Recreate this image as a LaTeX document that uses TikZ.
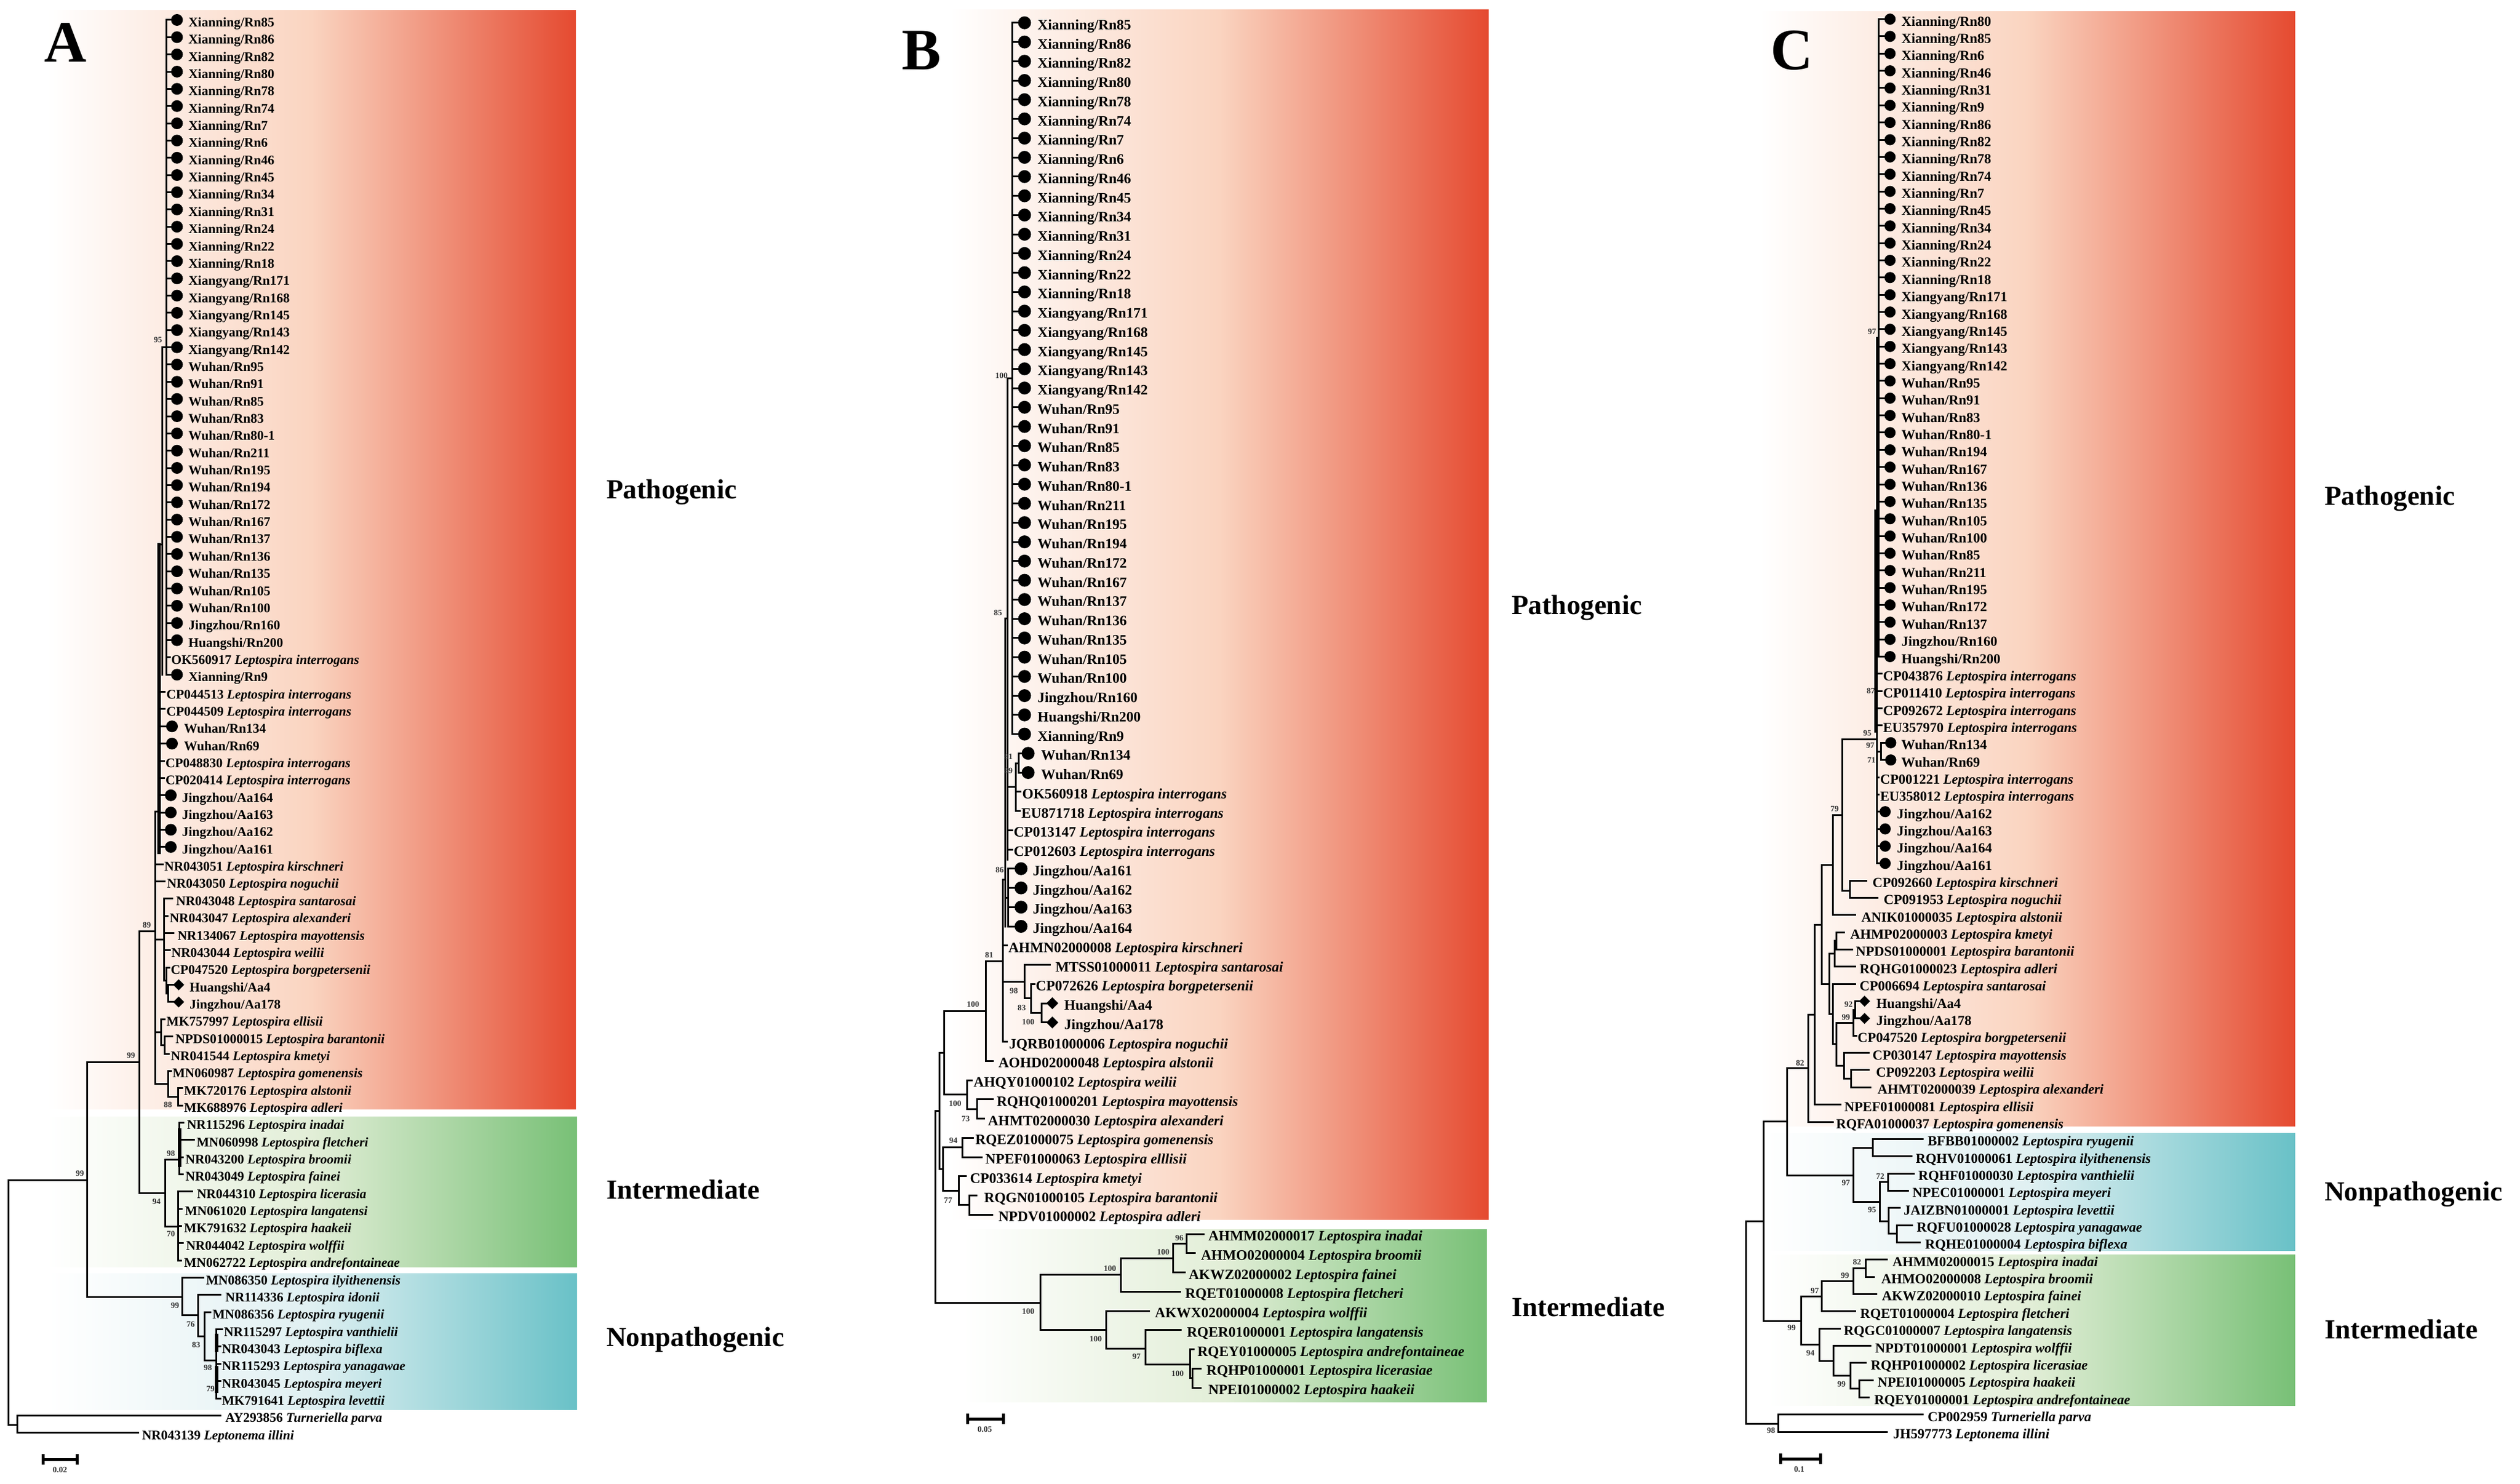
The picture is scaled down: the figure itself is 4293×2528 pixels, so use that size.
\documentclass[tikz,border=0pt]{standalone}
\usepackage{fontspec}
\setmainfont{Liberation Serif}
\usetikzlibrary{shapes.geometric}
\definecolor{redR}{RGB}{229,74,48}
\definecolor{redM}{RGB}{250,212,192}
\definecolor{greenR}{RGB}{120,192,118}
\definecolor{greenM}{RGB}{226,238,215}
\definecolor{blueR}{RGB}{105,193,199}
\definecolor{blueM}{RGB}{224,240,242}
\newcommand\rA[1]{{34+(#1-1)*29.35}}
\newcommand\rB[1]{{38.8+(#1-1)*32.75}}
\newcommand\rC[1]{{32.6+(#1-1)*29.35}}
\newcommand\Lsp[2]{#1 \textit{Leptospira #2}}
\newcommand\hb[3]{\draw[br] (#1,#3) -- (#2,#3);}
\newcommand\vb[3]{\draw[br] (#1,#2) -- (#1,#3);}
\newcommand\BS[4]{\node[bs] (#1) at (#2,#3) {#4};}
\begin{document}
\begin{tikzpicture}[x=0.2pt,y=-0.2pt,
 br/.style={line width=0.6pt, line cap=rect},
 la/.style={anchor=mid west, inner sep=0pt, font=\fontsize{4.5}{5}\selectfont\bfseries},
 lb/.style={anchor=mid west, inner sep=0pt, font=\fontsize{4.9}{5.5}\selectfont\bfseries},
 lc/.style={anchor=mid west, inner sep=0pt, font=\fontsize{4.7}{5.2}\selectfont\bfseries},
 bs/.style={inner sep=0pt, font=\fontsize{2.8}{3}\selectfont\bfseries, text=black!80},
 clade/.style={anchor=west, inner sep=0pt, font=\fontsize{9.4}{11}\selectfont\bfseries},
 panel/.style={inner sep=0pt, font=\fontsize{20}{22}\selectfont\bfseries},
 dm/.style={diamond, fill=black, inner sep=0pt, minimum width=3.9pt, minimum height=3.9pt},
 sbar/.style={line width=1pt},
 redbox/.style={left color=white, right color=redR, middle color=redM},
 greenbox/.style={left color=white, right color=greenR, middle color=greenM},
 bluebox/.style={left color=white, right color=blueR, middle color=blueM}]
\useasboundingbox (0,0) rectangle (4293,2528);
\fill[white] (0,0) rectangle (4293,2528);

%================ PANEL A =================
\shade[redbox] (80,18) rectangle (981,1889);
\shade[greenbox] (80,1902) rectangle (983,2158);
\shade[bluebox] (80,2169) rectangle (983,2401);

\vb{283.5}{\rA{1}}{\rA{39}}
\foreach \p/\n [count=\i] in {Xianning/Rn85,Xianning/Rn86,Xianning/Rn82,Xianning/Rn80,Xianning/Rn78,Xianning/Rn74,Xianning/Rn7,Xianning/Rn6,Xianning/Rn46,Xianning/Rn45,Xianning/Rn34,Xianning/Rn31,Xianning/Rn24,Xianning/Rn22,Xianning/Rn18,Xiangyang/Rn171,Xiangyang/Rn168,Xiangyang/Rn145,Xiangyang/Rn143,Xiangyang/Rn142,Wuhan/Rn95,Wuhan/Rn91,Wuhan/Rn85,Wuhan/Rn83,Wuhan/Rn80-1,Wuhan/Rn211,Wuhan/Rn195,Wuhan/Rn194,Wuhan/Rn172,Wuhan/Rn167,Wuhan/Rn137,Wuhan/Rn136,Wuhan/Rn135,Wuhan/Rn105,Wuhan/Rn100,Jingzhou/Rn160,Huangshi/Rn200}{
  \hb{283.5}{292}{\rA{\i}}
  \fill (301.5,\rA{\i}) circle[radius=2pt];
  \node[la] (a\i) at (320,\rA{\i}) {\p/\n};
}
\hb{283.5}{289}{\rA{38}} \node[la] (a38) at (290.8,\rA{38}) {\Lsp{OK560917}{interrogans}};
\hb{283.5}{292}{\rA{39}} \fill (301.5,\rA{39}) circle[radius=2pt]; \node[la] (a39) at (320,\rA{39}) {Xianning/Rn9};
\hb{276}{283.5}{591.6}
\vb{276}{591.6}{1150}
\draw[br,line width=1.1pt] (271,928) -- (271,1452);
\hb{271}{276}{928}
\hb{271}{280}{\rA{40}} \node[la] (a40) at (282.6,\rA{40}) {\Lsp{CP044513}{interrogans}};
\hb{271}{280}{\rA{41}} \node[la] (a41) at (282.6,\rA{41}) {\Lsp{CP044509}{interrogans}};
\hb{271}{284}{\rA{42}} \fill (293,\rA{42}) circle[radius=2pt]; \node[la] (a42) at (312.6,\rA{42}) {Wuhan/Rn134};
\hb{271}{284}{\rA{43}} \fill (293,\rA{43}) circle[radius=2pt]; \node[la] (a43) at (312.6,\rA{43}) {Wuhan/Rn69};
\hb{271}{279}{\rA{44}} \node[la] (a44) at (281,\rA{44}) {\Lsp{CP048830}{interrogans}};
\hb{271}{279}{\rA{45}} \node[la] (a45) at (281,\rA{45}) {\Lsp{CP020414}{interrogans}};
\foreach \n [count=\k from 46] in {Aa164,Aa163,Aa162,Aa161}{
  \hb{271}{282}{\rA{\k}} \fill (291,\rA{\k}) circle[radius=2pt];
  \node[la] (a\k) at (309,\rA{\k}) {Jingzhou/\n};
}
\hb{264}{271}{1382}
\vb{264}{1382}{1846.4}
\hb{264}{277}{\rA{50}} \node[la] (a50) at (279,\rA{50}) {\Lsp{NR043051}{kirschneri}};
\hb{264}{280}{\rA{51}} \node[la] (a51) at (283.5,\rA{51}) {\Lsp{NR043050}{noguchii}};
\hb{264}{279}{1600} \vb{279}{\rA{52}}{1670}
\hb{279}{293}{\rA{52}} \node[la] (a52) at (299,\rA{52}) {\Lsp{NR043048}{santarosai}};
\hb{279}{285}{\rA{53}} \node[la] (a53) at (288,\rA{53}) {\Lsp{NR043047}{alexanderi}};
\hb{279}{295}{\rA{54}} \node[la] (a54) at (301.5,\rA{54}) {\Lsp{NR134067}{mayottensis}};
\hb{279}{289}{\rA{55}} \node[la] (a55) at (291,\rA{55}) {\Lsp{NR043044}{weilii}};
\hb{279}{283}{1670} \vb{283}{\rA{56}}{1692.3}
\hb{283}{288}{\rA{56}} \node[la] (a56) at (290,\rA{56}) {\Lsp{CP047520}{borgpetersenii}};
\hb{283}{286}{1692.3} \vb{286}{\rA{57}}{\rA{58}}
\hb{286}{295}{\rA{57}} \node[dm] (dA57) at (304.4,\rA{57}) {}; \node[la] (a57) at (322,\rA{57}) {Huangshi/Aa4};
\hb{286}{295}{\rA{58}} \node[dm] (dA58) at (304.4,\rA{58}) {}; \node[la] (a58) at (322,\rA{58}) {Jingzhou/Aa178};
\hb{264}{274}{1758.5} \vb{274}{\rA{59}}{1780.3}
\hb{274}{280}{\rA{59}} \node[la] (a59) at (282.6,\rA{59}) {\Lsp{MK757997}{ellisii}};
\hb{274}{280}{1780.3} \vb{280}{\rA{60}}{\rA{61}}
\hb{280}{293}{\rA{60}} \node[la] (a60) at (298,\rA{60}) {\Lsp{NPDS01000015}{barantonii}};
\hb{280}{287}{\rA{61}} \node[la] (a61) at (290,\rA{61}) {\Lsp{NR041544}{kmetyi}};
\hb{264}{286}{1846.4} \vb{286}{\rA{62}}{1868.4}
\hb{286}{291}{\rA{62}} \node[la] (a62) at (293,\rA{62}) {\Lsp{MN060987}{gomenensis}};
\hb{286}{303}{1868.4} \vb{303}{\rA{63}}{\rA{64}}
\hb{303}{310}{\rA{63}} \node[la] (a63) at (312.6,\rA{63}) {\Lsp{MK720176}{alstonii}};
\hb{303}{310}{\rA{64}} \node[la] (a64) at (312.6,\rA{64}) {\Lsp{MK688976}{adleri}};
\hb{237.5}{264}{1586} \vb{237.5}{1586}{2032}
\hb{148}{237.5}{1809} \vb{148}{1809}{2209}
\hb{14.5}{148}{2010} \vb{14.5}{2010}{2427}
\hb{14.5}{29}{2427} \vb{29}{\rA{82}}{\rA{83}}
\hb{29}{375.6}{\rA{82}} \node[la] (a82) at (383,\rA{82}) {AY293856 \textit{Turneriella parva}};
\hb{29}{235}{\rA{83}} \node[la] (a83) at (241,\rA{83}) {NR043139 \textit{Leptonema illini}};
% intermediate A
\hb{237.5}{281}{2032} \vb{281}{1975}{2089}
\hb{281}{305}{1975} \vb{305}{\rA{65}}{\rA{68}}
\draw[br,line width=1.1pt] (306,1925) -- (306,1985);
\hb{305}{312}{\rA{65}} \node[la] (a65) at (317.5,\rA{65}) {\Lsp{NR115296}{inadai}};
\hb{305}{330}{\rA{66}} \node[la] (a66) at (334,\rA{66}) {\Lsp{MN060998}{fletcheri}};
\hb{305}{311}{\rA{67}} \node[la] (a67) at (315,\rA{67}) {\Lsp{NR043200}{broomii}};
\hb{305}{311}{\rA{68}} \node[la] (a68) at (315,\rA{68}) {\Lsp{NR043049}{fainei}};
\hb{281}{303}{2089} \vb{303}{\rA{69}}{\rA{73}}
\hb{303}{327}{\rA{69}} \node[la] (a69) at (334.5,\rA{69}) {\Lsp{NR044310}{licerasia}};
\hb{303}{309}{\rA{70}} \node[la] (a70) at (314,\rA{70}) {\Lsp{MN061020}{langatensi}};
\hb{303}{308}{\rA{71}} \node[la] (a71) at (312.6,\rA{71}) {\Lsp{MK791632}{haakeii}};
\hb{303}{311}{\rA{72}} \node[la] (a72) at (316,\rA{72}) {\Lsp{NR044042}{wolffii}};
\hb{303}{308}{\rA{73}} \node[la] (a73) at (312.6,\rA{73}) {\Lsp{MN062722}{andrefontaineae}};
% nonpathogenic A
\hb{148}{310}{2209} \vb{310}{\rA{74}}{2240.7}
\hb{310}{346.6}{\rA{74}} \node[la] (a74) at (350,\rA{74}) {\Lsp{MN086350}{ilyithenensis}};
\hb{310}{337}{2240.7} \vb{337}{\rA{75}}{2276.5}
\hb{337}{375.6}{\rA{75}} \node[la] (a75) at (383,\rA{75}) {\Lsp{NR114336}{idonii}};
\hb{337}{348}{2276.5} \vb{348}{\rA{76}}{2317}
\hb{348}{358.7}{\rA{76}} \node[la] (a76) at (361,\rA{76}) {\Lsp{MN086356}{ryugenii}};
\hb{348}{368}{2317} \vb{368}{\rA{77}}{\rA{81}}
\draw[br,line width=1.1pt] (369,2275) -- (369,2300);
\draw[br,line width=1.1pt] (369,2330) -- (369,2370);
\hb{368}{378}{\rA{77}} \node[la] (a77) at (380.5,\rA{77}) {\Lsp{NR115297}{vanthielii}};
\hb{368}{375}{\rA{78}} \node[la] (a78) at (377,\rA{78}) {\Lsp{NR043043}{biflexa}};
\hb{368}{375}{\rA{79}} \node[la] (a79) at (377,\rA{79}) {\Lsp{NR115293}{yanagawae}};
\hb{368}{375}{\rA{80}} \node[la] (a80) at (377,\rA{80}) {\Lsp{NR043045}{meyeri}};
\hb{368}{375}{\rA{81}} \node[la] (a81) at (377,\rA{81}) {\Lsp{MK791641}{levettii}};
% bootstrap A
\BS{bA1}{269}{579}{95}
\BS{bA2}{250}{1576}{89}
\BS{bA3}{223}{1798}{99}
\BS{bA4}{286}{1882}{88}
\BS{bA5}{136}{1999}{99}
\BS{bA6}{266.6}{2047}{94}
\BS{bA7}{291}{1965}{98}
\BS{bA8}{291}{2102}{70}
\BS{bA9}{298}{2224}{99}
\BS{bA10}{324.8}{2256}{76}
\BS{bA11}{334}{2291}{83}
\BS{bA12}{354}{2329.5}{98}
\BS{bA13}{358.7}{2366}{79}
% scale A
\draw[sbar] (73.7,2486) -- (131,2486);
\draw[sbar] (73.7,2477) -- (73.7,2495);
\draw[sbar] (131,2477) -- (131,2495);
\node[bs] (sA) at (102,2504) {0.02};
% labels A
\node[panel] (PA) at (111.5,72.4) {A};
\node[clade] (cA1) at (1032,838) {Pathogenic};
\node[clade] (cA2) at (1032,2026) {Intermediate};
\node[clade] (cA3) at (1032,2282) {Nonpathogenic};

%================ PANEL B =================
\shade[redbox] (1618,16.3) rectangle (2536,2077);
\shade[greenbox] (1639,2094) rectangle (2533,2388.5);

\vb{1724}{\rB{1}}{\rB{38}}
\foreach \p/\n [count=\i] in {Xianning/Rn85,Xianning/Rn86,Xianning/Rn82,Xianning/Rn80,Xianning/Rn78,Xianning/Rn74,Xianning/Rn7,Xianning/Rn6,Xianning/Rn46,Xianning/Rn45,Xianning/Rn34,Xianning/Rn31,Xianning/Rn24,Xianning/Rn22,Xianning/Rn18,Xiangyang/Rn171,Xiangyang/Rn168,Xiangyang/Rn145,Xiangyang/Rn143,Xiangyang/Rn142,Wuhan/Rn95,Wuhan/Rn91,Wuhan/Rn85,Wuhan/Rn83,Wuhan/Rn80-1,Wuhan/Rn211,Wuhan/Rn195,Wuhan/Rn194,Wuhan/Rn172,Wuhan/Rn167,Wuhan/Rn137,Wuhan/Rn136,Wuhan/Rn135,Wuhan/Rn105,Wuhan/Rn100,Jingzhou/Rn160,Huangshi/Rn200,Xianning/Rn9}{
  \hb{1724}{1734}{\rB{\i}}
  \fill (1745.4,\rB{\i}) circle[radius=2.2pt];
  \node[lb] (b\i) at (1766.6,\rB{\i}) {\p/\n};
}
\hb{1716}{1724}{644.7} \vb{1716}{644.7}{1464}
\hb{1712}{1716}{1054} \vb{1712}{1054}{1578}
\hb{1716}{1730}{1340} \vb{1730}{1300}{\rB{42}}
\hb{1730}{1735}{1300} \vb{1735}{\rB{39}}{\rB{40}}
\hb{1735}{1742}{\rB{39}} \fill (1751.5,\rB{39}) circle[radius=2.2pt]; \node[lb] (b39) at (1772.7,\rB{39}) {Wuhan/Rn134};
\hb{1735}{1742}{\rB{40}} \fill (1751.5,\rB{40}) circle[radius=2.2pt]; \node[lb] (b40) at (1772.7,\rB{40}) {Wuhan/Rn69};
\hb{1730}{1738}{\rB{41}} \node[lb] (b41) at (1740.6,\rB{41}) {\Lsp{OK560918}{interrogans}};
\hb{1730}{1737}{\rB{42}} \node[lb] (b42) at (1739,\rB{42}) {\Lsp{EU871718}{interrogans}};
\hb{1716}{1724}{\rB{43}} \node[lb] (b43) at (1726,\rB{43}) {\Lsp{CP013147}{interrogans}};
\hb{1716}{1724}{\rB{44}} \node[lb] (b44) at (1726,\rB{44}) {\Lsp{CP012603}{interrogans}};
\hb{1712}{1717}{1529} \vb{1717}{\rB{45}}{\rB{48}}
\foreach \n [count=\k from 45] in {Aa161,Aa162,Aa163,Aa164}{
  \hb{1717}{1729}{\rB{\k}} \fill (1739.4,\rB{\k}) circle[radius=2.2pt];
  \node[lb] (b\k) at (1758.7,\rB{\k}) {Jingzhou/\n};
}
\hb{1708}{1712}{1498} \vb{1708}{1498}{\rB{54}}
\hb{1708}{1715}{\rB{49}} \node[lb] (b49) at (1717,\rB{49}) {\Lsp{AHMN02000008}{kirschneri}};
\hb{1708}{1745}{1672} \vb{1745}{\rB{50}}{1700.6}
\hb{1745}{1788}{\rB{50}} \node[lb] (b50) at (1797,\rB{50}) {\Lsp{MTSS01000011}{santarosai}};
\hb{1745}{1756}{1700.6} \vb{1756}{\rB{51}}{1725.4}
\hb{1756}{1762}{\rB{51}} \node[lb] (b51) at (1763.6,\rB{51}) {\Lsp{CP072626}{borgpetersenii}};
\hb{1756}{1774.5}{1725.4} \vb{1774.5}{\rB{52}}{\rB{53}}
\hb{1774.5}{1784}{\rB{52}} \node[dm,minimum width=4.2pt,minimum height=4.2pt] (dB52) at (1792.7,\rB{52}) {}; \node[lb] (b52) at (1812,\rB{52}) {Huangshi/Aa4};
\hb{1774.5}{1784}{\rB{53}} \node[dm,minimum width=4.2pt,minimum height=4.2pt] (dB53) at (1792.7,\rB{53}) {}; \node[lb] (b53) at (1812,\rB{53}) {Jingzhou/Aa178};
\hb{1708}{1715}{\rB{54}} \node[lb] (b54) at (1718,\rB{54}) {\Lsp{JQRB01000006}{noguchii}};
\hb{1679}{1708}{1637} \vb{1679}{1637}{\rB{55}}
\hb{1679}{1691}{\rB{55}} \node[lb] (b55) at (1700,\rB{55}) {\Lsp{AOHD02000048}{alstonii}};
\hb{1608}{1679}{1722}
\vb{1647}{\rB{56}}{1889.2}
\hb{1647}{1655}{\rB{56}} \node[lb] (b56) at (1657.6,\rB{56}) {\Lsp{AHQY01000102}{weilii}};
\hb{1647}{1664}{1889.2} \vb{1664}{\rB{57}}{\rB{58}}
\hb{1664}{1691}{\rB{57}} \node[lb] (b57) at (1697,\rB{57}) {\Lsp{RQHQ01000201}{mayottensis}};
\hb{1664}{1676}{\rB{58}} \node[lb] (b58) at (1682,\rB{58}) {\Lsp{AHMT02000030}{alexanderi}};
\hb{1608}{1647}{1864.6}
\vb{1608}{1722}{1864.6}
\vb{1639}{\rB{59}}{\rB{60}}
\hb{1639}{1657.6}{\rB{59}} \node[lb] (b59) at (1660.6,\rB{59}) {\Lsp{RQEZ01000075}{gomenensis}};
\hb{1639}{1672.7}{\rB{60}} \node[lb] (b60) at (1677.6,\rB{60}) {\Lsp{NPEF01000063}{elllisii}};
\hb{1606}{1639}{1954.7}
\vb{1633}{\rB{61}}{2052.9}
\hb{1633}{1645.4}{\rB{61}} \node[lb] (b61) at (1651.5,\rB{61}) {\Lsp{CP033614}{kmetyi}};
\hb{1633}{1651.5}{2052.9} \vb{1651.5}{\rB{62}}{\rB{63}}
\hb{1651.5}{1663.6}{\rB{62}} \node[lb] (b62) at (1675.7,\rB{62}) {\Lsp{RQGN01000105}{barantonii}};
\hb{1651.5}{1690}{\rB{63}} \node[lb] (b63) at (1700,\rB{63}) {\Lsp{NPDV01000002}{adleri}};
\hb{1606}{1633}{2028.4} \vb{1606}{1954.7}{2028.4}
\hb{1600}{1606}{1991.5} \vb{1600}{1793.3}{1991.5} \hb{1600}{1608}{1793.3}
\hb{1593}{1600}{1892.4} \vb{1593}{1892.4}{2219.6} \hb{1593}{1772.7}{2219.6}
% intermediate B
\vb{1772.7}{2171.7}{2265}
\hb{1772.7}{1909}{2171.7} \vb{1909}{2143}{\rB{67}}
\hb{1909}{1998.7}{2143} \vb{1998.7}{2118.4}{\rB{66}}
\hb{1998.7}{2021.8}{2118.4} \vb{2021.8}{\rB{64}}{\rB{65}}
\hb{2021.8}{2050.2}{\rB{64}} \node[lb] (b64) at (2057.5,\rB{64}) {\Lsp{AHMM02000017}{inadai}};
\hb{2021.8}{2035}{\rB{65}} \node[lb] (b65) at (2045,\rB{65}) {\Lsp{AHMO02000004}{broomii}};
\hb{1998.7}{2018}{\rB{66}} \node[lb] (b66) at (2024,\rB{66}) {\Lsp{AKWZ02000002}{fainei}};
\hb{1909}{2010.8}{\rB{67}} \node[lb] (b67) at (2018,\rB{67}) {\Lsp{RQET01000008}{fletcheri}};
\hb{1772.7}{1884.8}{2265} \vb{1884.8}{\rB{68}}{2297}
\hb{1884.8}{1957.5}{\rB{68}} \node[lb] (b68) at (1966.6,\rB{68}) {\Lsp{AKWX02000004}{wolffii}};
\hb{1884.8}{1951.5}{2297} \vb{1951.5}{\rB{69}}{2324.6}
\hb{1951.5}{2011}{\rB{69}} \node[lb] (b69) at (2021,\rB{69}) {\Lsp{RQER01000001}{langatensis}};
\hb{1951.5}{2027.4}{2324.6} \vb{2027.4}{\rB{70}}{2347.7}
\hb{2027.4}{2033}{\rB{70}} \node[lb] (b70) at (2039,\rB{70}) {\Lsp{RQEY01000005}{andrefontaineae}};
\hb{2027.4}{2031.4}{2347.7} \vb{2031.4}{\rB{71}}{\rB{72}}
\hb{2031.4}{2045}{\rB{71}} \node[lb] (b71) at (2054.4,\rB{71}) {\Lsp{RQHP01000001}{licerasiae}};
\hb{2031.4}{2045}{\rB{72}} \node[lb] (b72) at (2057.5,\rB{72}) {\Lsp{NPEI01000002}{haakeii}};
% bootstrap B
\BS{bB1}{1706}{640}{100}
\BS{bB2}{1700}{1044}{85}
\BS{bB3}{1718}{1289}{81}
\BS{bB4}{1718}{1313}{89}
\BS{bB5}{1703}{1482}{86}
\BS{bB6}{1685}{1627}{81}
\BS{bB7}{1657.6}{1711}{100}
\BS{bB8}{1727}{1688}{98}
\BS{bB9}{1740.6}{1717}{83}
\BS{bB10}{1751.5}{1741.4}{100}
\BS{bB11}{1627}{1880}{100}
\BS{bB12}{1645}{1906}{73}
\BS{bB13}{1624}{1943}{94}
\BS{bB14}{1615}{2044.6}{77}
\BS{bB15}{1751.5}{2234}{100}
\BS{bB16}{1890.8}{2160.6}{100}
\BS{bB17}{1981.7}{2133}{100}
\BS{bB18}{2009}{2109}{96}
\BS{bB19}{1866.6}{2280.6}{100}
\BS{bB20}{1936}{2311}{97}
\BS{bB21}{2006}{2339.6}{100}
% scale B
\draw[sbar] (1648.5,2417) -- (1709,2417);
\draw[sbar] (1648.5,2408) -- (1648.5,2426);
\draw[sbar] (1709,2408) -- (1709,2426);
\node[bs] (sB) at (1677.6,2435) {0.05};
\node[panel] (PB) at (1570,86) {B};
\node[clade] (cB1) at (2574,1035) {Pathogenic};
\node[clade] (cB2) at (2574,2226) {Intermediate};

%================ PANEL C =================
\shade[redbox] (2998,19.6) rectangle (3910,1918.5);
\shade[bluebox] (3001,1930.7) rectangle (3910,2130);
\shade[greenbox] (3010,2137) rectangle (3910,2394.5);

\vb{3200.7}{\rC{1}}{\rC{38}}
\foreach \p/\n [count=\i] in {Xianning/Rn80,Xianning/Rn85,Xianning/Rn6,Xianning/Rn46,Xianning/Rn31,Xianning/Rn9,Xianning/Rn86,Xianning/Rn82,Xianning/Rn78,Xianning/Rn74,Xianning/Rn7,Xianning/Rn45,Xianning/Rn34,Xianning/Rn24,Xianning/Rn22,Xianning/Rn18,Xiangyang/Rn171,Xiangyang/Rn168,Xiangyang/Rn145,Xiangyang/Rn143,Xiangyang/Rn142,Wuhan/Rn95,Wuhan/Rn91,Wuhan/Rn83,Wuhan/Rn80-1,Wuhan/Rn194,Wuhan/Rn167,Wuhan/Rn136,Wuhan/Rn135,Wuhan/Rn105,Wuhan/Rn100,Wuhan/Rn85,Wuhan/Rn211,Wuhan/Rn195,Wuhan/Rn172,Wuhan/Rn137,Jingzhou/Rn160,Huangshi/Rn200}{
  \hb{3200.7}{3211}{\rC{\i}}
  \fill (3219.8,\rC{\i}) circle[radius=1.9pt];
  \node[lc] (c\i) at (3238.3,\rC{\i}) {\p/\n};
}
\hb{3197}{3200.7}{575.6}
\vb{3197}{575.6}{\rC{50}}
\draw[br,line width=1.1pt] (3196,871) -- (3196,1245);
\foreach \n [count=\k from 39] in {CP043876,CP011410,CP092672,EU357970}{
  \hb{3197}{3205}{\rC{\k}} \node[lc] (c\k) at (3207,\rC{\k}) {\Lsp{\n}{interrogans}};
}
\hb{3138}{3197}{1260}
\hb{3197}{3204}{1280} \vb{3204}{\rC{43}}{\rC{44}}
\hb{3204}{3212}{\rC{43}} \fill (3221,\rC{43}) circle[radius=1.9pt]; \node[lc] (c43) at (3238,\rC{43}) {Wuhan/Rn134};
\hb{3204}{3212}{\rC{44}} \fill (3221,\rC{44}) circle[radius=1.9pt]; \node[lc] (c44) at (3238,\rC{44}) {Wuhan/Rn69};
\hb{3197}{3200}{\rC{45}} \node[lc] (c45) at (3202,\rC{45}) {\Lsp{CP001221}{interrogans}};
\hb{3197}{3200}{\rC{46}} \node[lc] (c46) at (3202,\rC{46}) {\Lsp{EU358012}{interrogans}};
\foreach \n [count=\k from 47] in {Aa162,Aa163,Aa164,Aa161}{
  \hb{3197}{3203}{\rC{\k}} \fill (3211.5,\rC{\k}) circle[radius=1.9pt];
  \node[lc] (c\k) at (3230.6,\rC{\k}) {Jingzhou/\n};
}
\vb{3138}{1260}{1517}
\hb{3138}{3151}{1517} \vb{3151}{\rC{51}}{\rC{52}}
\hb{3151}{3179.6}{\rC{51}} \node[lc] (c51) at (3189,\rC{51}) {\Lsp{CP092660}{kirschneri}};
\hb{3151}{3198.7}{\rC{52}} \node[lc] (c52) at (3208,\rC{52}) {\Lsp{CP091953}{noguchii}};
\hb{3122}{3138}{1388.5} \vb{3122}{1388.5}{\rC{53}}
\hb{3122}{3160.5}{\rC{53}} \node[lc] (c53) at (3170,\rC{53}) {\Lsp{ANIK01000035}{alstonii}};
\hb{3103}{3122}{1473.7}
\vb{3128.6}{\rC{54}}{\rC{55}}
\hb{3128.6}{3141}{\rC{54}} \node[lc] (c54) at (3151,\rC{54}) {\Lsp{AHMP02000003}{kmetyi}};
\hb{3128.6}{3155}{\rC{55}} \node[lc] (c55) at (3160.5,\rC{55}) {\Lsp{NPDS01000001}{barantonii}};
\hb{3125.4}{3128.6}{1602.8} \vb{3125.4}{1602.8}{\rC{56}}
\hb{3125.4}{3160.5}{\rC{56}} \node[lc] (c56) at (3167,\rC{56}) {\Lsp{RQHG01000023}{adleri}};
\vb{3160.5}{\rC{58}}{\rC{59}}
\hb{3160.5}{3168}{\rC{58}} \node[dm] (dC58) at (3176.4,\rC{58}) {}; \node[lc] (c58) at (3195.6,\rC{58}) {Huangshi/Aa4};
\hb{3160.5}{3168}{\rC{59}} \node[dm] (dC59) at (3176.4,\rC{59}) {}; \node[lc] (c59) at (3195.6,\rC{59}) {Jingzhou/Aa178};
\hb{3157}{3160.5}{1720.2} \vb{3157}{1720.2}{\rC{60}}
\hb{3157}{3162}{\rC{60}} \node[lc] (c60) at (3163.7,\rC{60}) {\Lsp{CP047520}{borgpetersenii}};
\vb{3153}{\rC{62}}{\rC{63}}
\hb{3153}{3183}{\rC{62}} \node[lc] (c62) at (3195,\rC{62}) {\Lsp{CP092203}{weilii}};
\hb{3153}{3186}{\rC{63}} \node[lc] (c63) at (3197.5,\rC{63}) {\Lsp{AHMT02000039}{alexanderi}};
\hb{3141}{3153}{1837.6} \vb{3141}{\rC{61}}{1837.6}
\hb{3141}{3183}{\rC{61}} \node[lc] (c61) at (3189,\rC{61}) {\Lsp{CP030147}{mayottensis}};
\hb{3128.6}{3157}{1742.2} \hb{3128.6}{3141}{1815.6} \vb{3128.6}{1742.2}{1815.6}
\hb{3122}{3160.5}{\rC{57}} \node[lc] (c57) at (3167,\rC{57}) {\Lsp{CP006694}{santarosai}};
\vb{3122}{\rC{57}}{1778.9} \hb{3122}{3128.6}{1778.9}
\hb{3116}{3125.4}{1624.8} \hb{3116}{3122}{1727.5} \vb{3116}{1624.8}{1727.5}
\hb{3103}{3116}{1676.2} \vb{3103}{1473.7}{1676.2}
\hb{3091.6}{3103}{1575} \vb{3091.6}{1575}{\rC{64}}
\hb{3091.6}{3135}{\rC{64}} \node[lc] (c64) at (3141,\rC{64}) {\Lsp{NPEF01000081}{ellisii}};
\hb{3080.7}{3091.6}{1728.3} \vb{3080.7}{1728.3}{\rC{65}}
\hb{3080.7}{3122}{\rC{65}} \node[lc] (c65) at (3127,\rC{65}) {\Lsp{RQFA01000037}{gomenensis}};
\hb{3044.4}{3080.7}{1819.6} \vb{3044.4}{1819.6}{2002} \hb{3044.4}{3157.3}{2002}
\hb{3004}{3044.4}{1910.8} \vb{3004}{1910.8}{2250} \hb{3004}{3068.7}{2250}
\hb{2974}{3004}{2080.4} \vb{2974}{2080.4}{2425} \hb{2974}{3029.7}{2425}
\vb{3029.7}{\rC{82}}{\rC{83}}
\hb{3029.7}{3275}{\rC{82}} \node[lc] (c82) at (3283,\rC{82}) {CP002959 \textit{Turneriella parva}};
\hb{3029.7}{3214.7}{\rC{83}} \node[lc] (c83) at (3224,\rC{83}) {JH597773 \textit{Leptonema illini}};
% nonpathogenic C
\vb{3157.3}{1955}{2047}
\hb{3157.3}{3190.6}{1955} \vb{3190.6}{\rC{66}}{\rC{67}}
\hb{3190.6}{3275.6}{\rC{66}} \node[lc] (c66) at (3283,\rC{66}) {\Lsp{BFBB01000002}{ryugenii}};
\hb{3190.6}{3256}{\rC{67}} \node[lc] (c67) at (3262.5,\rC{67}) {\Lsp{RQHV01000061}{ilyithenensis}};
\hb{3157.3}{3202.6}{2047} \vb{3202.6}{2013.7}{2080}
\hb{3202.6}{3216.5}{2013.7} \vb{3216.5}{\rC{68}}{\rC{69}}
\hb{3216.5}{3260}{\rC{68}} \node[lc] (c68) at (3267,\rC{68}) {\Lsp{RQHF01000030}{vanthielii}};
\hb{3216.5}{3250}{\rC{69}} \node[lc] (c69) at (3257,\rC{69}) {\Lsp{NPEC01000001}{meyeri}};
\hb{3202.6}{3217}{2080} \vb{3217}{\rC{70}}{2101.8}
\hb{3217}{3236}{\rC{70}} \node[lc] (c70) at (3242,\rC{70}) {\Lsp{JAIZBN01000001}{levettii}};
\hb{3217}{3231}{2101.8} \vb{3231}{\rC{71}}{\rC{72}}
\hb{3231}{3257.5}{\rC{71}} \node[lc] (c71) at (3264.4,\rC{71}) {\Lsp{RQFU01000028}{yanagawae}};
\hb{3231}{3270.7}{\rC{72}} \node[lc] (c72) at (3278.5,\rC{72}) {\Lsp{RQHE01000004}{biflexa}};
% intermediate C
\vb{3068.7}{2208.2}{2290.7}
\hb{3068.7}{3103.6}{2208.2} \vb{3103.6}{2182.5}{\rC{76}}
\hb{3103.6}{3157.3}{2182.5} \vb{3157.3}{2160.5}{\rC{75}}
\hb{3157.3}{3178}{2160.5} \vb{3178}{\rC{73}}{\rC{74}}
\hb{3178}{3214}{\rC{73}} \node[lc] (c73) at (3223,\rC{73}) {\Lsp{AHMM02000015}{inadai}};
\hb{3178}{3192}{\rC{74}} \node[lc] (c74) at (3204,\rC{74}) {\Lsp{AHMO02000008}{broomii}};
\hb{3157.3}{3196}{\rC{75}} \node[lc] (c75) at (3205,\rC{75}) {\Lsp{AKWZ02000010}{fainei}};
\hb{3103.6}{3160.5}{\rC{76}} \node[lc] (c76) at (3168,\rC{76}) {\Lsp{RQET01000004}{fletcheri}};
\hb{3068.7}{3099}{2290.7} \vb{3099}{\rC{77}}{2318.2}
\hb{3099}{3134}{\rC{77}} \node[lc] (c77) at (3140,\rC{77}) {\Lsp{RQGC01000007}{langatensis}};
\hb{3099}{3123}{2318.2} \vb{3123}{\rC{78}}{2343.9}
\hb{3123}{3186}{\rC{78}} \node[lc] (c78) at (3193.6,\rC{78}) {\Lsp{NPDT01000001}{wolffii}};
\hb{3123}{3152}{2343.9} \vb{3152}{\rC{79}}{2365.9}
\hb{3152}{3178}{\rC{79}} \node[lc] (c79) at (3186,\rC{79}) {\Lsp{RQHP01000002}{licerasiae}};
\hb{3152}{3167}{2365.9} \vb{3167}{\rC{80}}{\rC{81}}
\hb{3167}{3190}{\rC{80}} \node[lc] (c80) at (3197.5,\rC{80}) {\Lsp{NPEI01000005}{haakeii}};
\hb{3167}{3183}{\rC{81}} \node[lc] (c81) at (3192,\rC{81}) {\Lsp{RQEY01000001}{andrefontaineae}};
% bootstrap C
\BS{bC1}{3189}{565}{97}
\BS{bC2}{3125.4}{1378}{79}
\BS{bC3}{3149}{1711}{92}
\BS{bC4}{3144.5}{1733}{99}
\BS{bC5}{3066.7}{1811}{82}
\BS{bC6}{3144.5}{2015}{97}
\BS{bC7}{3203}{2004}{72}
\BS{bC8}{3189}{2061}{95}
\BS{bC9}{3017}{2437}{98}
\BS{bC10}{3052}{2262}{99}
\BS{bC11}{3091.6}{2199}{97}
\BS{bC12}{3143}{2172.8}{99}
\BS{bC13}{3163.7}{2150}{82}
\BS{bC14}{3084}{2305}{94}
\BS{bC15}{3137}{2358}{99}
\BS{bC16}{3187}{1177}{87}
\BS{bC17}{3181}{1249}{95}
\BS{bC18}{3186}{1270}{97}
\BS{bC19}{3188}{1295}{71}
% scale C
\draw[sbar] (3033,2485) -- (3101.8,2485);
\draw[sbar] (3033,2476) -- (3033,2494);
\draw[sbar] (3101.8,2476) -- (3101.8,2494);
\node[bs] (sC) at (3065,2503) {0.1};
\node[panel] (PC) at (3052.6,85.5) {C};
\node[clade] (cC1) at (3959,849) {Pathogenic};
\node[clade] (cC2) at (3959,2034) {Nonpathogenic};
\node[clade] (cC3) at (3959,2264) {Intermediate};
\end{tikzpicture}
\end{document}
